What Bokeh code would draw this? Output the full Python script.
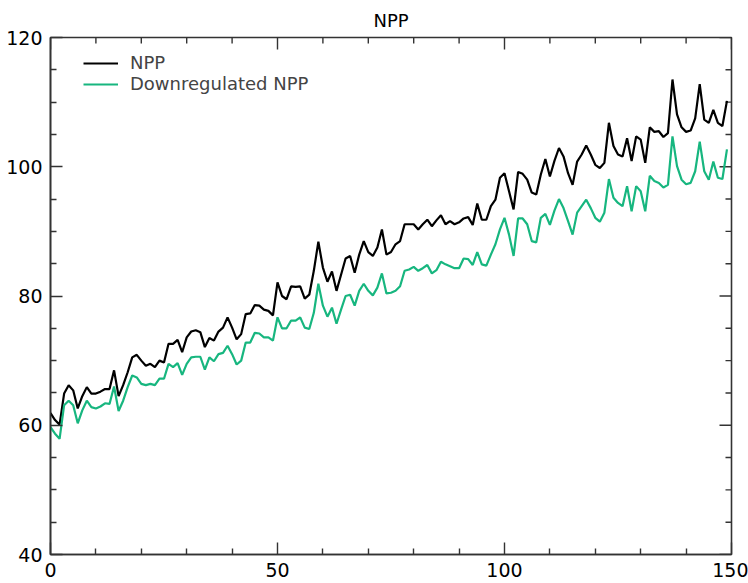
import math
from bokeh.plotting import figure
from bokeh.models import FixedTicker, Legend, LegendItem, Range1d
from bokeh.embed import file_html
from bokeh.resources import INLINE

# ---- data ----
years = list(range(150))

npp = [61.9, 60.8, 60.1, 64.9, 66.2, 65.4, 62.6, 64.5, 65.9, 64.9,
       64.9, 65.2, 65.6, 65.6, 68.5, 64.5, 66.2, 68.2, 70.5, 70.9,
       70.0, 69.2, 69.5, 69.0, 70.0, 69.7, 72.6, 72.6, 73.2, 71.3,
       73.6, 74.5, 74.7, 74.4, 72.1, 73.5, 73.1, 74.5, 75.1, 76.7,
       75.1, 73.3, 74.1, 77.2, 77.3, 78.6, 78.5, 77.9, 77.7, 77.0,
       82.1, 80.0, 79.5, 81.5, 81.4, 81.5, 79.6, 80.2, 83.9, 88.4,
       84.4, 82.2, 83.8, 80.8, 83.3, 85.8, 86.2, 83.6, 86.4, 88.5,
       86.8, 86.2, 87.5, 90.3, 86.4, 86.8, 88.0, 88.5, 91.1, 91.1,
       91.1, 90.3, 91.1, 91.8, 90.8, 91.7, 92.5, 91.1, 91.6, 91.1,
       91.4, 92.0, 92.2, 91.0, 94.3, 91.8, 91.8, 93.9, 94.9, 98.3,
       99.0, 96.2, 93.4, 99.2, 98.9, 98.0, 96.0, 95.7, 98.8, 101.2,
       98.5, 100.9, 102.9, 101.6, 99.0, 97.2, 100.8, 101.9, 103.3, 101.9,
       100.3, 99.8, 100.6, 106.8, 103.2, 101.9, 101.6, 104.4, 100.9, 104.7,
       104.2, 100.6, 106.1, 105.4, 105.5, 104.6, 105.2, 113.5, 108.1, 106.1,
       105.4, 105.6, 107.5, 112.8, 107.3, 106.8, 108.8, 106.8, 106.3, 110.2]

npp_down = [59.7, 58.7, 57.9, 63.1, 63.8, 63.1, 60.3, 62.3, 63.8, 62.8,
            62.6, 62.9, 63.4, 63.3, 66.0, 62.2, 63.8, 65.9, 67.7, 67.4,
            66.4, 66.2, 66.4, 66.2, 67.2, 67.2, 69.5, 69.0, 69.6, 67.8,
            69.5, 70.5, 70.6, 70.6, 68.6, 70.5, 69.9, 71.0, 71.2, 72.3,
            71.0, 69.4, 70.0, 72.8, 72.8, 74.3, 74.2, 73.6, 73.6, 73.1,
            76.7, 75.0, 75.0, 76.2, 76.2, 76.7, 75.1, 74.9, 77.4, 81.9,
            78.5, 76.8, 78.2, 75.7, 77.9, 80.0, 80.2, 78.5, 80.8, 81.9,
            80.8, 80.1, 81.3, 83.5, 80.4, 80.5, 80.8, 81.5, 83.9, 84.1,
            84.5, 83.9, 84.3, 84.8, 83.5, 84.0, 85.3, 84.9, 84.6, 84.3,
            84.3, 85.8, 85.7, 84.8, 86.8, 84.9, 84.7, 86.4, 88.0, 90.3,
            92.1, 89.5, 86.2, 92.0, 92.0, 91.1, 88.5, 88.3, 92.1, 92.7,
            91.0, 93.2, 95.0, 93.6, 91.6, 89.5, 92.9, 93.9, 94.9, 93.6,
            92.1, 91.5, 92.9, 98.1, 95.2, 94.4, 93.9, 97.0, 93.1, 97.0,
            96.2, 93.1, 98.6, 97.8, 97.5, 96.8, 97.2, 104.7, 100.1, 98.0,
            97.3, 97.5, 99.3, 103.9, 99.3, 98.0, 100.8, 98.3, 98.1, 102.7]

series_labels = ["NPP", "Downregulated NPP"]
series_colors = ["#000000", "#17b67f"]

x_major = [0, 50, 100, 150]
x_minor = [10, 20, 30, 40, 60, 70, 80, 90, 110, 120, 130, 140]
y_major = [40, 60, 80, 100, 120]
y_minor = [45, 50, 55, 65, 70, 75, 85, 90, 95, 105, 110, 115]

FONT = "DejaVu Sans"
AXIS_COLOR = "#333333"
MAJOR_LEN = 12
MINOR_LEN = 6

x_lo, x_hi = x_major[0], x_major[-1]
y_lo, y_hi = y_major[0], y_major[-1]

p = figure(width=748, height=583, output_backend="svg", toolbar_location=None,
           x_range=Range1d(x_lo, x_hi), y_range=Range1d(y_lo, y_hi),
           title="NPP",
           min_border_left=50, min_border_right=17,
           min_border_top=36, min_border_bottom=29)

p.title.align = "center"
p.title.text_font = FONT
p.title.text_font_size = "18px"
p.title.text_font_style = "normal"
p.title.text_color = "black"
p.title.standoff = 14

p.xgrid.visible = False
p.ygrid.visible = False
p.outline_line_color = AXIS_COLOR
p.outline_line_width = 1.6
p.background_fill_color = "white"
p.border_fill_color = "white"

xt = FixedTicker(ticks=x_major, minor_ticks=x_minor)
yt = FixedTicker(ticks=y_major, minor_ticks=y_minor)

for ax, tk in ((p.xaxis[0], xt), (p.yaxis[0], yt)):
    ax.ticker = tk
    ax.axis_line_color = AXIS_COLOR
    ax.axis_line_width = 1.6
    ax.major_tick_line_color = AXIS_COLOR
    ax.minor_tick_line_color = AXIS_COLOR
    ax.major_tick_line_width = 1.4
    ax.minor_tick_line_width = 1.4
    ax.major_tick_in = MAJOR_LEN
    ax.major_tick_out = 0
    ax.minor_tick_in = MINOR_LEN
    ax.minor_tick_out = 0
    ax.major_label_text_font = FONT
    ax.major_label_text_font_size = "19px"
    ax.major_label_text_color = "black"
p.xaxis.major_label_standoff = 8
p.yaxis.major_label_standoff = 8

# inward ticks on the top and right edges of the box
tick_kw = dict(line_color=AXIS_COLOR, line_width=1.4, length_units="screen")
p.ray(x=x_major, y=[y_hi] * len(x_major), length=MAJOR_LEN, angle=-math.pi / 2, **tick_kw)
p.ray(x=x_minor, y=[y_hi] * len(x_minor), length=MINOR_LEN, angle=-math.pi / 2, **tick_kw)
p.ray(x=[x_hi] * len(y_major), y=y_major, length=MAJOR_LEN, angle=math.pi, **tick_kw)
p.ray(x=[x_hi] * len(y_minor), y=y_minor, length=MINOR_LEN, angle=math.pi, **tick_kw)

r1 = p.line(years, npp, line_color=series_colors[0], line_width=2.2)
r2 = p.line(years, npp_down, line_color=series_colors[1], line_width=2.2)

legend = Legend(items=[LegendItem(label=series_labels[0], renderers=[r1]),
                       LegendItem(label=series_labels[1], renderers=[r2])],
                location=(33, 460))
legend.margin = 0
legend.padding = 0
legend.spacing = 0
legend.glyph_width = 35
legend.glyph_height = 20
legend.label_height = 20
legend.label_standoff = 12
legend.label_text_font = FONT
legend.label_text_font_size = "18px"
legend.background_fill_alpha = 0
legend.border_line_color = None
p.add_layout(legend, "center")

open("out.html", "w").write(file_html(p, INLINE))
